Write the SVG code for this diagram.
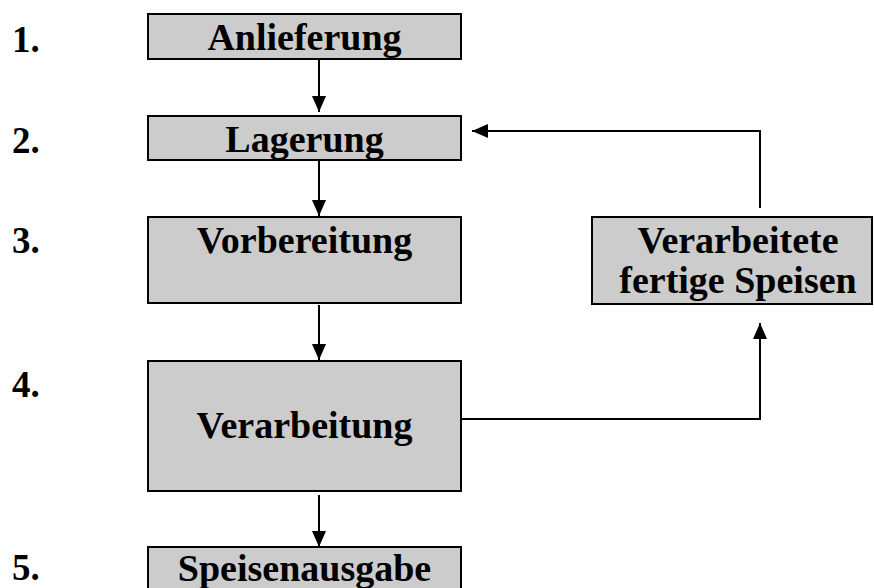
<svg xmlns="http://www.w3.org/2000/svg" width="874" height="588" viewBox="0 0 874 588">
<defs>
<style>
.box{fill:#cccccc;stroke:#000;stroke-width:2}
.t{font-family:"Liberation Serif","Times New Roman",serif;font-weight:bold;font-size:38px;fill:#000;text-anchor:middle}
.n{font-family:"Liberation Serif","Times New Roman",serif;font-weight:bold;font-size:37px;fill:#000}
.c{fill:none;stroke:#000;stroke-width:2}
</style>
<marker id="ah" markerUnits="userSpaceOnUse" markerWidth="16" markerHeight="16" viewBox="0 0 16 14" refX="16" refY="7" orient="auto">
<path d="M0,0 L16,7 L0,14 Z" fill="#000"/>
</marker>
</defs>
<rect width="874" height="588" fill="#fff"/>
<g id="numbers">
<text class="n" x="12" y="52">1.</text>
<text class="n" x="12" y="153">2.</text>
<text class="n" x="12" y="253">3.</text>
<text class="n" x="12" y="397">4.</text>
<text class="n" x="12" y="580">5.</text>
</g>
<g id="connectors">
<path class="c" d="M319,55 L319,112" marker-end="url(#ah)"/>
<path class="c" d="M319,150 L319,216" marker-end="url(#ah)"/>
<path class="c" d="M319,305 L319,360" marker-end="url(#ah)"/>
<path class="c" d="M319,495 L319,547" marker-end="url(#ah)"/>
<path class="c" d="M760,208 L760,131 L472,131" marker-end="url(#ah)"/>
<path class="c" d="M452,419 L760,419 L760,323" marker-end="url(#ah)"/>
</g>
<g id="n1"><rect class="box" x="148" y="14" width="313" height="45"/><text class="t" x="304.5" y="50">Anlieferung</text></g>
<g id="n2"><rect class="box" x="148" y="116" width="313" height="44"/><text class="t" x="304.5" y="152">Lagerung</text></g>
<g id="n3"><rect class="box" x="148" y="217" width="313" height="86"/><text class="t" x="304.5" y="253">Vorbereitung</text></g>
<g id="n4"><rect class="box" x="148" y="361" width="313" height="130"/><text class="t" x="304.5" y="438">Verarbeitung</text></g>
<g id="n5"><rect class="box" x="148" y="547" width="313" height="60"/><text class="t" x="304.5" y="581">Speisenausgabe</text></g>
<g id="n6"><rect class="box" x="592" y="217" width="280" height="87"/><text class="t" x="738" y="253">Verarbeitete</text><text class="t" x="738" y="293">fertige Speisen</text></g>
</svg>
